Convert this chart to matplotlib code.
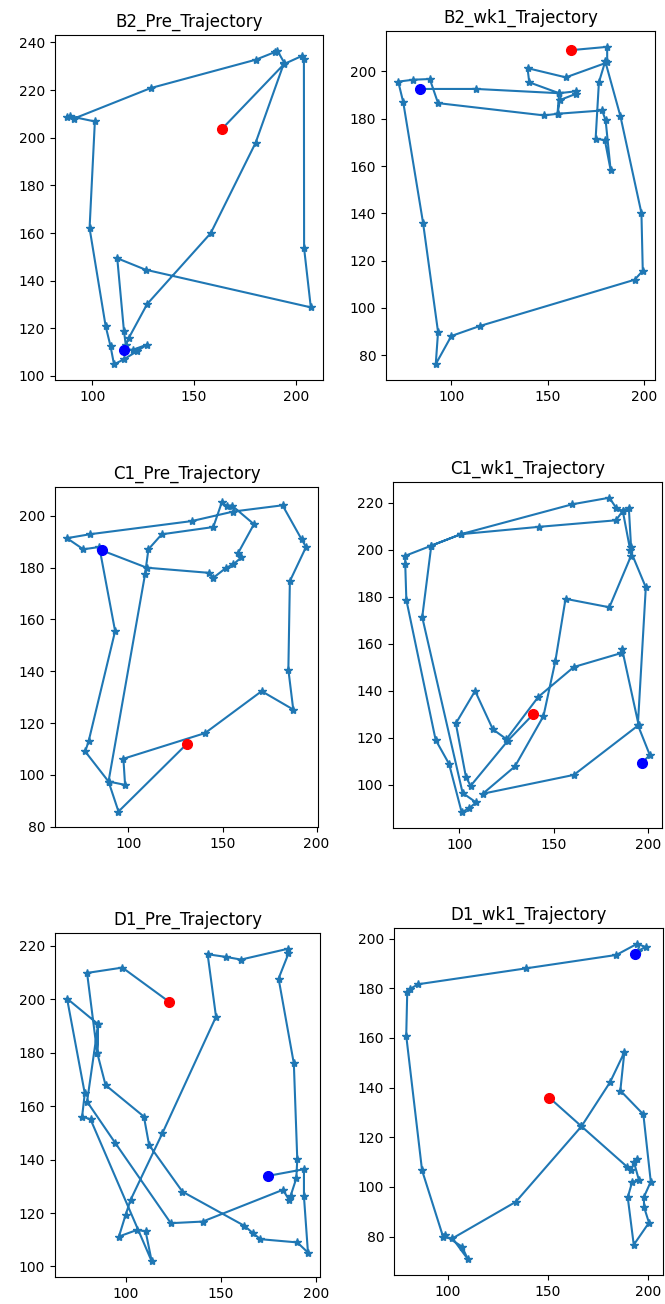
import matplotlib.pyplot as plt
from matplotlib.ticker import MultipleLocator

# trajectory points (first point = red, last point = blue)
b2_pre_x = [163.9, 194.3, 203.3, 204, 204.1, 207.4, 126.2, 112.3, 115.6, 116.5, 118, 127, 158.2, 180.3,
            194.3, 191, 190, 180.3, 128.7, 91, 87.7, 89, 101.3, 98.7, 106.6, 109, 110.7, 115.6, 122, 127,
            120, 115.6]
b2_pre_y = [203.8, 230.9, 234.4, 233, 153.6, 128.8, 144.6, 149.4, 118.8, 113, 116, 130.2, 159.9, 197.9,
            231.5, 236.5, 236, 232.7, 220.8, 208, 208.6, 209, 206.8, 162, 120.9, 112.5, 104.9, 107, 110.4,
            113.2, 111, 111.1]

b2_wk1_x = [162.1, 181, 181, 159.5, 139.6, 140.5, 156, 164.7, 164.7, 156.4, 155.2, 178.4, 180.2, 182.8,
            179.8, 175, 176.7, 180, 187.9, 198.8, 199.5, 195.3, 114.7, 100, 91.9, 93.1, 85.3, 75, 72.4,
            80.2, 88.8, 93.1, 148.3, 155.2, 156, 112.9, 83.6]
b2_wk1_y = [209, 210.4, 203.8, 197.5, 201.4, 195.4, 190.8, 191.6, 190.5, 187.9, 182.1, 183.5, 179.3, 158.3,
            170.9, 171.6, 195.4, 204.3, 181, 140.1, 115.7, 111.9, 92.3, 88.1, 76.2, 89.8, 136, 187, 195.7,
            196.5, 196.8, 186.6, 181.4, 182.1, 190.8, 192.6, 192.6]

c1_pre_x = [131, 94.7, 89.4, 77, 78.8, 92.9, 84.5, 76, 67.3, 79.3, 133.6, 155.8, 181.9, 192, 194.4, 185.8,
            185, 187.6, 170.8, 140.7, 97.3, 98.2, 89.4, 108.8, 110.6, 117.7, 145.1, 149.6, 152.2, 155,
            166.7, 158.4, 160, 155.8, 152, 145.1, 143, 109.7, 85.8]
c1_pre_y = [111.9, 85.8, 97.4, 109, 112.9, 155.5, 188, 187.1, 191.4, 192.9, 198, 201.7, 204.1, 191, 188,
            174.8, 140.6, 125.2, 132.3, 116.1, 106.2, 96.1, 97.4, 177.4, 187.1, 192.9, 195.7, 205.2, 203.9,
            204, 196.8, 185.8, 184, 181.3, 180, 176.1, 178, 180, 186.7]

c1_wk1_x = [139.3, 125.8, 106, 103.5, 98.2, 108.4, 117.8, 125, 141.9, 160.7, 185.7, 186.2, 195, 160.7,
            112.5, 129.5, 144.6, 150.9, 156.3, 179.5, 191, 191, 189.8, 186.6, 183, 179.5, 159.8, 100.9,
            85.2, 71.4, 71.4, 72, 87.5, 94.6, 101.3, 105.4, 108.9, 101.8, 80.4, 85.2, 100.9, 142, 183,
            186.6, 190.5, 198.8, 194.6, 200.9, 197]
c1_wk1_y = [130.1, 118.8, 99.5, 103.5, 126.1, 139.9, 123.6, 119.4, 137.4, 150.1, 156, 157.9, 125.4, 104.2,
            96.2, 107.8, 129.2, 152.6, 179.1, 175.5, 197.4, 201, 217.9, 216.5, 217.9, 222.1, 219.3, 206.6,
            201.7, 197.4, 193.9, 178.6, 119.1, 108.9, 88.3, 90.1, 92.5, 96.5, 171.3, 201.7, 206.6, 209.7,
            212.5, 216.5, 200, 184, 125.4, 112.7, 109.4]

d1_pre_x = [122.8, 98.3, 79.8, 85.1, 85.6, 69.3, 78.6, 77.2, 81.6, 113.7, 110.5, 106.1, 96.5, 100, 102.6,
            119.3, 147.4, 143, 152.6, 160.5, 185.4, 185.4, 180.2, 188.2, 190, 189.5, 186.5, 185.6, 182.5,
            140.4, 123.7, 94.7, 79.8, 85.6, 85.1, 89.5, 109.6, 112.3, 129.8, 162.3, 166.7, 170.7, 190,
            195.6, 193.5, 193.5, 174.6]
d1_pre_y = [199.1, 211.9, 209.9, 180, 190.7, 200.3, 164.8, 156.1, 155.1, 101.9, 113.1, 113.7, 111.2, 119.3,
            124.9, 149.9, 193.5, 216.9, 215.9, 214.9, 219, 217.2, 207.8, 176, 140.1, 133, 126.4, 125,
            128.7, 116.8, 116.2, 146.1, 161.7, 190.7, 180, 167.9, 156.1, 145.5, 128, 115.2, 112.5, 110.2,
            109, 105.2, 126.2, 136.4, 133.9]

d1_wk1_x = [150.8, 166.8, 189.6, 191.3, 194.6, 193, 195.5, 192.1, 189.9, 192.9, 200.5, 198, 198, 201.4,
            197.7, 186.2, 188.2, 181.1, 166.8, 134, 102.4, 110.1, 107.1, 98.5, 97.8, 87.2, 79.3, 79.8, 81,
            85.2, 139.1, 184.2, 194.6, 198.8, 195, 193.3]
d1_wk1_y = [135.9, 124.4, 108.1, 106.7, 111.4, 110, 102.7, 102, 95.8, 76.7, 85.6, 92, 96, 102.1, 129.2,
            138.8, 154.2, 142.2, 124.4, 94, 79.3, 70.9, 76, 80.5, 79.7, 106.7, 160.9, 178.3, 179.6, 181.6,
            188, 193.4, 197.9, 196.6, 195, 193.9]

titles = ['B2_Pre_Trajectory', 'B2_wk1_Trajectory', 'C1_Pre_Trajectory',
          'C1_wk1_Trajectory', 'D1_Pre_Trajectory', 'D1_wk1_Trajectory']
xs = [b2_pre_x, b2_wk1_x, c1_pre_x, c1_wk1_x, d1_pre_x, d1_wk1_x]
ys = [b2_pre_y, b2_wk1_y, c1_pre_y, c1_wk1_y, d1_pre_y, d1_wk1_y]

# axes boxes in pixels: left, top, right, bottom
W, H = 665, 1304
boxes = [(55, 35, 323, 380), (386, 31, 655, 380),
         (55, 487, 318, 827), (393, 482, 662, 828),
         (55, 933, 320, 1277), (394, 928, 663, 1275)]

fig = plt.figure(figsize=(W / 100, H / 100), dpi=100)
for (l, t, r, b), x, y, title in zip(boxes, xs, ys, titles):
    ax = fig.add_axes([l / W, 1 - b / H, (r - l) / W, (b - t) / H])
    ax.plot(x, y, marker='*', color='C0', markersize=6, linewidth=1.5)
    ax.plot(x[0], y[0], 'ro', markersize=7)
    ax.plot(x[-1], y[-1], 'bo', markersize=7)
    ax.xaxis.set_major_locator(MultipleLocator(50))
    ax.yaxis.set_major_locator(MultipleLocator(20))
    ax.set_title(title)

fig.savefig('out.png')
